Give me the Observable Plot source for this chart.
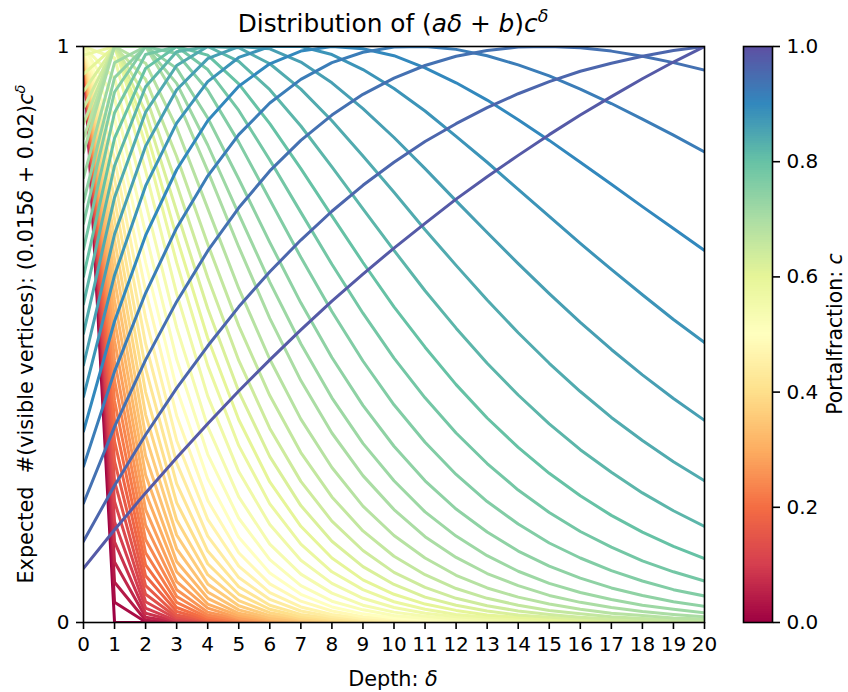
<!DOCTYPE html>
<html><head><meta charset="utf-8">
<script src="https://cdn.jsdelivr.net/npm/d3@7"></script>
<script src="https://cdn.jsdelivr.net/npm/@observablehq/plot@0.6"></script>
<style>
body{margin:0;background:#fff;}
#wrap{position:relative;width:848px;height:692px;}
#wrap svg{position:absolute;left:0;top:0;}
</style></head><body><div id="wrap"></div>
<script>
// Depth values (x) and portal fractions (one curve each)
const depths = [0,1,2,3,4,5,6,7,8,9,10,11,12,13,14,15,16,17,18,19,20];
const portalFractions = [0,0.02,0.04,0.06,0.08,0.10,0.12,0.14,0.16,0.18,0.20,0.22,0.24,0.26,0.28,0.30,0.32,0.34,0.36,0.38,0.40,0.42,0.44,0.46,0.48,0.50,0.52,0.54,0.56,0.58,0.60,0.62,0.64,0.66,0.68,0.70,0.72,0.74,0.76,0.78,0.80,0.82,0.84,0.86,0.88,0.90,0.92,0.94,0.96,0.98];

// Normalised expected visible vertices per depth, one list per portal fraction
const y00 = [1,0,0,0,0,0,0,0,0,0,0,0,0,0,0,0,0,0,0,0,0];
const y02 = [1,0.035,0.001,0,0,0,0,0,0,0,0,0,0,0,0,0,0,0,0,0,0];
const y04 = [1,0.07,0.004,0,0,0,0,0,0,0,0,0,0,0,0,0,0,0,0,0,0];
const y06 = [1,0.105,0.009,0.001,0,0,0,0,0,0,0,0,0,0,0,0,0,0,0,0,0];
const y08 = [1,0.14,0.016,0.002,0,0,0,0,0,0,0,0,0,0,0,0,0,0,0,0,0];
const y10 = [1,0.175,0.025,0.003,0,0,0,0,0,0,0,0,0,0,0,0,0,0,0,0,0];
const y12 = [1,0.21,0.036,0.006,0.001,0,0,0,0,0,0,0,0,0,0,0,0,0,0,0,0];
const y14 = [1,0.245,0.049,0.009,0.002,0,0,0,0,0,0,0,0,0,0,0,0,0,0,0,0];
const y16 = [1,0.28,0.064,0.013,0.003,0,0,0,0,0,0,0,0,0,0,0,0,0,0,0,0];
const y18 = [1,0.315,0.081,0.019,0.004,0.001,0,0,0,0,0,0,0,0,0,0,0,0,0,0,0];
const y20 = [1,0.35,0.1,0.026,0.006,0.002,0,0,0,0,0,0,0,0,0,0,0,0,0,0,0];
const y22 = [1,0.385,0.121,0.035,0.009,0.002,0.001,0,0,0,0,0,0,0,0,0,0,0,0,0,0];
const y24 = [1,0.42,0.144,0.045,0.013,0.004,0.001,0,0,0,0,0,0,0,0,0,0,0,0,0,0];
const y26 = [1,0.455,0.169,0.057,0.018,0.006,0.002,0.001,0,0,0,0,0,0,0,0,0,0,0,0,0];
const y28 = [1,0.49,0.196,0.071,0.025,0.008,0.003,0.001,0,0,0,0,0,0,0,0,0,0,0,0,0];
const y30 = [1,0.525,0.225,0.088,0.032,0.012,0.004,0.001,0,0,0,0,0,0,0,0,0,0,0,0,0];
const y32 = [1,0.56,0.256,0.106,0.042,0.016,0.006,0.002,0.001,0,0,0,0,0,0,0,0,0,0,0,0];
const y34 = [1,0.595,0.289,0.128,0.053,0.022,0.008,0.003,0.001,0,0,0,0,0,0,0,0,0,0,0,0];
const y36 = [1,0.63,0.324,0.152,0.067,0.029,0.012,0.005,0.002,0.001,0,0,0,0,0,0,0,0,0,0,0];
const y38 = [1,0.665,0.361,0.178,0.083,0.038,0.017,0.007,0.003,0.001,0.001,0,0,0,0,0,0,0,0,0,0];
const y40 = [1,0.7,0.4,0.208,0.102,0.049,0.023,0.01,0.005,0.002,0.001,0,0,0,0,0,0,0,0,0,0];
const y42 = [1,0.735,0.441,0.241,0.124,0.062,0.03,0.014,0.007,0.003,0.001,0.001,0,0,0,0,0,0,0,0,0];
const y44 = [1,0.77,0.484,0.277,0.15,0.078,0.04,0.02,0.01,0.005,0.002,0.001,0.001,0,0,0,0,0,0,0,0];
const y46 = [1,0.805,0.529,0.316,0.179,0.098,0.052,0.027,0.014,0.007,0.004,0.002,0.001,0,0,0,0,0,0,0,0];
const y48 = [1,0.84,0.576,0.359,0.212,0.121,0.067,0.037,0.02,0.01,0.006,0.003,0.001,0.001,0,0,0,0,0,0,0];
const y50 = [1,0.875,0.625,0.406,0.25,0.148,0.086,0.049,0.027,0.015,0.008,0.005,0.002,0.001,0.001,0,0,0,0,0,0];
const y52 = [1,0.91,0.676,0.457,0.292,0.181,0.109,0.064,0.037,0.022,0.012,0.007,0.004,0.002,0.001,0.001,0,0,0,0,0];
const y54 = [1,0.945,0.729,0.512,0.34,0.218,0.136,0.084,0.051,0.03,0.018,0.011,0.006,0.004,0.002,0.001,0.001,0,0,0,0];
const y56 = [1,0.98,0.784,0.571,0.393,0.262,0.17,0.108,0.068,0.042,0.026,0.016,0.01,0.006,0.003,0.002,0.001,0.001,0,0,0];
const y58 = [0.985,1,0.829,0.625,0.446,0.307,0.206,0.136,0.088,0.057,0.036,0.023,0.014,0.009,0.006,0.003,0.002,0.001,0.001,0,0];
const y60 = [0.952,1,0.857,0.669,0.494,0.352,0.244,0.167,0.112,0.074,0.049,0.032,0.021,0.013,0.009,0.005,0.003,0.002,0.001,0.001,0.001];
const y62 = [0.922,1,0.886,0.714,0.545,0.401,0.288,0.203,0.141,0.097,0.066,0.044,0.03,0.02,0.013,0.009,0.006,0.004,0.002,0.002,0.001];
const y64 = [0.893,1,0.914,0.761,0.599,0.455,0.337,0.245,0.176,0.125,0.087,0.061,0.042,0.029,0.02,0.014,0.009,0.006,0.004,0.003,0.002];
const y66 = [0.866,1,0.943,0.809,0.657,0.515,0.394,0.295,0.218,0.159,0.115,0.083,0.059,0.042,0.03,0.021,0.015,0.01,0.007,0.005,0.003];
const y68 = [0.84,1,0.971,0.859,0.719,0.58,0.457,0.353,0.269,0.202,0.151,0.112,0.082,0.06,0.044,0.032,0.023,0.016,0.012,0.008,0.006];
const y70 = [0.816,1,1,0.91,0.784,0.652,0.528,0.42,0.329,0.255,0.196,0.149,0.113,0.085,0.064,0.047,0.035,0.026,0.019,0.014,0.01];
const y72 = [0.772,0.972,1,0.936,0.829,0.709,0.591,0.484,0.39,0.311,0.246,0.192,0.15,0.116,0.089,0.068,0.052,0.04,0.03,0.023,0.017];
const y74 = [0.73,0.946,1,0.962,0.876,0.77,0.66,0.555,0.46,0.377,0.306,0.246,0.197,0.157,0.124,0.098,0.077,0.06,0.047,0.036,0.028];
const y76 = [0.693,0.921,1,0.988,0.924,0.834,0.734,0.634,0.54,0.454,0.378,0.313,0.257,0.21,0.171,0.138,0.112,0.09,0.072,0.057,0.046];
const y78 = [0.648,0.885,0.986,1,0.96,0.889,0.803,0.712,0.622,0.537,0.459,0.39,0.329,0.276,0.23,0.191,0.158,0.131,0.107,0.088,0.072];
const y80 = [0.601,0.841,0.962,1,0.985,0.935,0.866,0.788,0.706,0.625,0.548,0.478,0.413,0.355,0.304,0.259,0.22,0.186,0.157,0.132,0.111];
const y82 = [0.553,0.793,0.93,0.991,1,0.974,0.925,0.862,0.791,0.718,0.646,0.576,0.511,0.45,0.395,0.345,0.3,0.261,0.225,0.194,0.167];
const y84 = [0.502,0.738,0.886,0.967,1,0.998,0.97,0.926,0.871,0.81,0.747,0.682,0.62,0.56,0.503,0.45,0.401,0.356,0.316,0.279,0.246];
const y86 = [0.447,0.674,0.827,0.925,0.979,1,0.996,0.973,0.937,0.892,0.842,0.788,0.732,0.677,0.623,0.571,0.521,0.474,0.43,0.389,0.351];
const y88 = [0.392,0.603,0.758,0.867,0.939,0.981,1,1,0.986,0.96,0.927,0.888,0.844,0.799,0.752,0.705,0.658,0.613,0.569,0.526,0.486];
const y90 = [0.332,0.523,0.672,0.786,0.871,0.931,0.97,0.992,1,0.996,0.984,0.963,0.937,0.907,0.873,0.837,0.799,0.761,0.722,0.684,0.646];
const y92 = [0.271,0.436,0.572,0.685,0.775,0.847,0.902,0.943,0.972,0.99,0.999,1,0.995,0.984,0.968,0.949,0.926,0.901,0.874,0.846,0.817];
const y94 = [0.207,0.34,0.456,0.557,0.645,0.72,0.784,0.837,0.881,0.917,0.945,0.967,0.983,0.993,0.999,1,0.998,0.992,0.983,0.972,0.959];
const y96 = [0.141,0.238,0.326,0.407,0.48,0.548,0.609,0.664,0.714,0.759,0.799,0.835,0.866,0.894,0.918,0.939,0.957,0.971,0.983,0.993,1];
const y98 = [0.094,0.161,0.225,0.286,0.345,0.402,0.456,0.508,0.558,0.605,0.65,0.693,0.735,0.774,0.811,0.847,0.881,0.913,0.944,0.973,1];

const curves = [y00,y02,y04,y06,y08,y10,y12,y14,y16,y18,y20,y22,y24,y26,y28,y30,y32,y34,y36,y38,y40,y42,y44,y46,y48,y50,y52,y54,y56,y58,y60,y62,y64,y66,y68,y70,y72,y74,y76,y78,y80,y82,y84,y86,y88,y90,y92,y94,y96,y98];

// Tick labels
const xTickValues = [0,1,2,3,4,5,6,7,8,9,10,11,12,13,14,15,16,17,18,19,20];
const yTickValues = [0,1];
const colorbarTicks = [0.0,0.2,0.4,0.6,0.8,1.0];

// Spectral colour stops (matplotlib)
const spectralStops = ["#9e0142","#d53e4f","#f46d43","#fdae61","#fee08b","#ffffbf","#e6f598","#abdda4","#66c2a5","#3288bd","#5e4fa2"];
const spectral = d3.piecewise(d3.interpolateRgb, spectralStops);

const rows = portalFractions.flatMap((c, i) => depths.map((d, j) => ({c, depth: d, value: curves[i][j]})));

const W = 848, H = 692;
const baseStyle = {fontFamily: "DejaVu Sans", fontSize: "20px", color: "black"};

const main = Plot.plot({
  width: W, height: H,
  marginLeft: 83, marginRight: 144, marginTop: 46, marginBottom: 70,
  style: {...baseStyle, background: "white"},
  x: {domain: [0, 20]},
  y: {domain: [0, 1]},
  color: {type: "linear", domain: [0, 1], interpolate: spectral},
  marks: [
    Plot.line(rows, {x: "depth", y: "value", z: "c", stroke: "c", strokeWidth: 3, strokeLinejoin: "round", clip: true}),
    Plot.frame({stroke: "black", strokeWidth: 1.6}),
    Plot.axisX({ticks: xTickValues, tickSize: 7, tickPadding: 7, strokeWidth: 1.6, tickFormat: d => String(d), label: null}),
    Plot.axisY({ticks: yTickValues, tickSize: 7, tickPadding: 7, strokeWidth: 1.6, tickFormat: d => String(d), label: null})
  ]
});

const cbSteps = d3.range(256).map(i => ({lo: i / 256, hi: (i + 1) / 256}));
const bar = Plot.plot({
  width: W, height: H,
  marginLeft: 743, marginRight: 76, marginTop: 46, marginBottom: 70,
  style: {...baseStyle, background: "transparent"},
  x: {domain: [0, 1], axis: null},
  y: {domain: [0, 1]},
  color: {type: "linear", domain: [0, 1], interpolate: spectral},
  marks: [
    Plot.rect(cbSteps, {x1: 0, x2: 1, y1: "lo", y2: "hi", fill: d => (d.lo + d.hi) / 2, shapeRendering: "crispEdges"}),
    Plot.frame({stroke: "black", strokeWidth: 1.6}),
    Plot.axisY({anchor: "right", ticks: colorbarTicks, tickFormat: d3.format(".1f"), tickSize: 7, tickPadding: 7, strokeWidth: 1.6, label: null})
  ]
});

const wrap = document.getElementById("wrap");
wrap.appendChild(main);
wrap.appendChild(bar);

function mathText(svg, {x, y, rotate = 0, size = 20}, parts) {
  const t = d3.select(svg).append("text")
    .attr("transform", `translate(${x},${y}) rotate(${rotate})`)
    .attr("text-anchor", "middle")
    .attr("font-family", "DejaVu Sans")
    .attr("font-size", size)
    .attr("fill", "black")
    .style("white-space", "pre")
    .attr("dy", "0.35em");
  for (const [s, k] of parts) {
    const ts = t.append("tspan").text(s);
    if (k === "i" || k === "sup") ts.attr("font-style", "italic");
    if (k === "sup") ts.attr("font-size", size * 0.7).attr("dy", -size * 0.42);
  }
}

mathText(main, {x: 393, y: 23.5, size: 24.8}, [["Distribution of (", ""], ["a", "i"], ["δ", "i"], [" + ", ""], ["b", "i"], [")", ""], ["c", "i"], ["δ", "sup"]]);
mathText(main, {x: 26, y: 334, rotate: -90, size: 20.8}, [["Expected  #(visible vertices): (0.015", ""], ["δ", "i"], [" + 0.02)", ""], ["c", "i"], ["δ", "sup"]]);
mathText(main, {x: 393, y: 679, size: 20.8}, [["Depth: ", ""], ["δ", "i"]]);
mathText(bar, {x: 835, y: 334, rotate: -90, size: 20.4}, [["Portalfraction: ", ""], ["c", "i"]]);
</script>
</body></html>
